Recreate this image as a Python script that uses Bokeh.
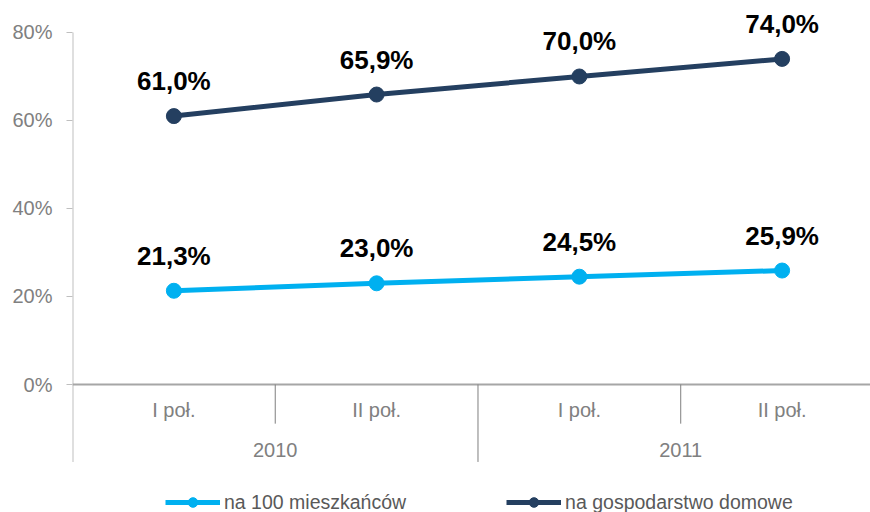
from bokeh.plotting import figure
from bokeh.models import (Range1d, FixedTicker, PrintfTickFormatter, Legend,
                          LegendItem, ColumnDataSource)
from bokeh.core.properties import value
from bokeh.embed import file_html
from bokeh.resources import INLINE

# ---- data ----
halves = ["I poł.", "II poł.", "I poł.", "II poł."]
years = ["2010", "2011"]
per_100 = [21.3, 23.0, 24.5, 25.9]
per_household = [61.0, 65.9, 70.0, 74.0]
series_names = ["na 100 mieszkańców", "na gospodarstwo domowe"]
y_ticks = [0, 20, 40, 60, 80]

LIGHT = "#00B0F0"
DARK = "#243F60"
GRAY_TXT = "#808080"
FONT = "Liberation Sans"

n = len(halves)
xs = [i + 0.5 for i in range(n)]

p = figure(width=870, height=512, output_backend="svg", toolbar_location=None,
           x_range=Range1d(0, 3.936), y_range=Range1d(-29.09, 87.27),
           x_axis_location=None,
           min_border_left=72, min_border_right=0, min_border_top=0,
           min_border_bottom=0)
p.outline_line_color = None
p.grid.visible = False

ax = p.yaxis[0]
ax.ticker = FixedTicker(ticks=y_ticks)
ax.formatter = PrintfTickFormatter(format="%d%%")
ax.axis_line_color = None
ax.major_tick_in = 0
ax.major_tick_out = 6
ax.major_tick_line_color = "#BFBFBF"
ax.minor_tick_line_color = None
ax.major_label_standoff = 14
ax.major_label_text_font = FONT
ax.major_label_text_font_size = "20px"
ax.major_label_text_color = GRAY_TXT

# axis lines / category separators
ymax = max(y_ticks)
p.segment(x0=[0], y0=[-17.6], x1=[0], y1=[ymax], line_color="#BFBFBF", line_width=2)
p.segment(x0=[0], y0=[0], x1=[n], y1=[0], line_color="#A6A6A6", line_width=2)
year_bounds = [2 * j for j in range(1, len(years) + 1)]
p.segment(x0=year_bounds, y0=[0] * len(year_bounds), x1=year_bounds,
          y1=[-17.6] * len(year_bounds), line_color="#7F7F7F", line_width=1)
half_bounds = [2 * j + 1 for j in range(len(years))]
p.segment(x0=half_bounds, y0=[0] * len(half_bounds), x1=half_bounds,
          y1=[-8.9] * len(half_bounds), line_color="#7F7F7F", line_width=1)

# category labels
p.text(x=xs, y=[-5.9] * n, text=halves, text_font=value(FONT),
       text_font_size="20px", text_color=GRAY_TXT, text_align="center",
       text_baseline="middle")
p.text(x=[2 * j + 1 for j in range(len(years))], y=[-14.8] * len(years),
       text=years, text_font=value(FONT), text_font_size="20px",
       text_color=GRAY_TXT, text_align="center", text_baseline="middle")

items = []
for vals, color, name in [(per_100, LIGHT, series_names[0]),
                          (per_household, DARK, series_names[1])]:
    src = ColumnDataSource(dict(x=xs, y=vals,
                                lab=[f"{v:.1f}".replace(".", ",") + "%" for v in vals]))
    lr = p.line("x", "y", source=src, line_color=color, line_width=5)
    sr = p.scatter("x", "y", source=src, size=15, fill_color=color,
                   line_color=color)
    p.text("x", "y", text="lab", source=src, text_font=value(FONT),
           text_font_style="bold", text_font_size="26px", text_color="#000000",
           text_align="center", text_baseline="middle", y_offset=-35)
    items.append(LegendItem(label=name, renderers=[lr, sr]))

legend = Legend(items=items, orientation="horizontal", location=(93, -2),
                glyph_width=55, glyph_height=24, label_standoff=4, spacing=100,
                padding=0, margin=0, border_line_color=None,
                background_fill_alpha=0, label_text_font=FONT,
                label_text_font_size="19.5px", label_text_color="#595959")
p.add_layout(legend)

open("out.html", "w").write(file_html(p, INLINE))
